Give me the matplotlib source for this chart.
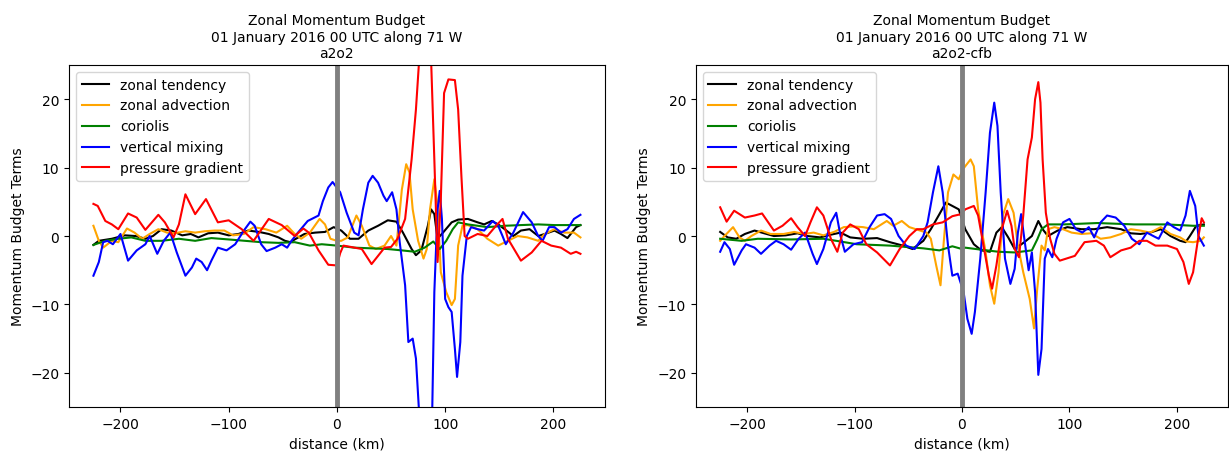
import numpy as np
import matplotlib
matplotlib.use('Agg')
import matplotlib.pyplot as plt

# ---- a2o2 (left panel) ----
tend_x_L = [-225,-220,-208,-196,-186,-177,-170,-162,-153,-143,-135,-128,-119,-110,-100,-91,-82,-72,-63,-54,
            -48,-43,-39,-30,-20,-11,-3,4,12,20,29,38,47,55,61,69,73,78,84,87,
            90,93,98,106,112,121,130,136,143,149,155,163,170,178,186,192,201,207,213,221,225]
tend_y_L = [-1.3,-0.7,-0.4,0.1,0.0,-0.4,0.0,1.0,0.8,0.1,0.3,-0.2,0.4,0.5,0.1,0.3,0.8,0.6,0.3,-0.2,
            -0.7,-0.9,-0.5,0.3,0.5,0.6,1.3,0.8,-0.4,-0.4,0.8,1.5,2.3,2.1,0.5,-1.9,-2.8,-2.1,1.5,3.9,
            3.2,-0.4,0.5,2.0,2.4,2.5,2.0,1.7,2.2,1.7,1.0,0.0,0.8,1.0,0.0,0.3,0.8,0.3,-0.3,1.3,1.6]

adv_x_L = [-225,-220,-216,-208,-202,-194,-187,-180,-173,-165,-157,-150,-140,-131,-122,-113,-104,-96,-86,-77,
           -66,-56,-46,-39,-33,-25,-16,-11,-6,0,4,10,18,23,30,36,44,50,55,60,
           64,67,70,75,80,83,86,90,93,96,101,106,109,112,116,121,130,139,149,158,
           167,176,186,192,201,210,219,225]
adv_y_L = [1.5,-0.7,-1.7,-0.7,-0.9,1.1,0.5,-0.4,0.3,1.0,0.5,0.4,0.7,0.5,0.7,0.8,0.8,0.1,0.3,1.3,
           1.0,0.5,1.5,0.3,-0.4,0.5,2.5,1.7,-0.4,-0.7,-0.7,-0.2,3.0,1.5,-1.4,-1.9,-1.4,0.0,-1.4,6.8,
           10.5,9.3,3.9,-0.7,-3.3,-1.9,3.9,8.3,4.4,-5.3,-8.2,-10.1,-9.2,-1.4,1.5,1.6,1.0,-0.4,-1.4,-0.7,
           0.0,-0.2,-0.7,0.3,1.0,0.5,0.5,-0.2]

cor_x_L = [-225,-214,-202,-190,-177,-162,-146,-131,-116,-100,-85,-70,-54,-39,-25,-14,0,16,32,47,
           60,72,81,89,95,101,107,112,121,130,139,155,170,186,201,225]
cor_y_L = [-1.3,-0.7,-0.4,-0.2,-0.7,-0.7,-0.4,-0.7,-0.3,-0.5,-0.7,-0.9,-1.0,-0.9,-1.4,-1.2,-1.4,-1.7,-1.8,-1.9,
           -2.1,-2.3,-1.7,-0.8,-1.9,-0.7,1.0,2.0,1.7,1.5,1.3,1.5,1.6,1.7,1.6,1.6]

mix_x_L = [-225,-220,-216,-212,-207,-200,-193,-185,-177,-173,-166,-160,-154,-148,-140,-134,-130,-125,-120,-116,
           -110,-102,-94,-86,-80,-76,-70,-65,-57,-51,-46,-42,-36,-27,-17,-13,-8,-4,3,9,
           16,20,24,29,33,38,43,46,51,55,58,63,66,70,73,76,82,88,90,93,
           95,97,100,103,106,109,111,114,116,120,124,130,136,144,149,153,156,163,172,180,
           186,190,196,201,207,213,219,225]
mix_y_L = [-5.8,-3.8,-0.9,-0.7,-1.2,0.3,-3.6,-2.1,-1.2,0.0,-2.6,-0.7,0.5,-2.4,-5.8,-4.6,-3.3,-3.8,-5.0,-3.6,
           -1.7,-2.1,-1.2,0.8,2.1,1.5,-1.2,-2.2,-1.7,-1.2,-1.7,-0.7,0.5,2.2,3.0,5.1,7.1,7.9,6.4,3.4,
           0.5,0.1,3.9,7.8,8.8,7.8,5.9,5.1,6.4,3.9,-0.9,-7.2,-15.5,-15.0,-17.9,-26,-40,-26,-8.2,3.9,
           6.6,2.5,-9.2,-10.4,-11.1,-16.5,-20.6,-15.5,-5.8,0.0,1.3,1.0,0.8,2.2,1.5,0.0,-1.2,0.5,3.5,2.0,
           0.0,-0.7,1.3,1.3,0.5,1.0,2.5,3.1]

pg_x_L = [-225,-221,-214,-208,-202,-193,-185,-177,-165,-159,-151,-146,-140,-131,-121,-110,-100,-88,-77,-63,
          -51,-39,-31,-26,-17,-8,0,3,6,13,23,32,38,44,50,56,63,69,73,76,
          81,87,90,93,96,99,103,109,112,115,118,121,130,139,147,153,158,170,180,189,
          198,207,216,221,225]
pg_y_L = [4.7,4.4,2.2,1.7,1.0,3.3,2.7,0.9,3.1,2.0,-0.2,1.7,6.1,3.2,5.4,2.0,2.3,1.0,-0.7,2.5,
          1.6,0.0,1.1,0.5,-2.1,-4.2,-4.3,-2.5,-1.4,-1.6,-1.9,-4.1,-2.9,-1.7,-1.6,-0.4,2.5,11.2,18.5,25.8,
          40,25.8,11.2,-3.8,5.4,20.9,22.9,22.8,18.5,8.8,0.0,-0.4,0.3,0.0,1.5,2.5,-0.4,-3.6,-2.4,-0.7,
          -1.4,-1.7,-2.6,-2.3,-2.6]

# ---- a2o2-cfb (right panel) ----
tend_x_R = [-225,-218,-210,-202,-193,-184,-175,-164,-153,-144,-132,-122,-113,-104,-92,-79,-67,-55,-46,-36,
            -29,-21,-15,-9,-3,3,11,18,26,32,37,43,49,58,65,71,75,80,89,98,
            111,123,135,148,157,166,175,185,194,203,208,212,218,225]
tend_y_R = [0.6,-0.2,-0.4,0.3,0.8,0.4,0.0,0.1,0.4,0.0,-0.2,0.2,0.5,-0.2,-0.4,-0.3,-0.9,-1.4,-1.9,-0.7,
            1.0,3.2,4.9,4.4,3.9,1.0,-1.2,-2.1,-2.3,0.5,1.3,-0.2,-1.9,-0.9,0.0,2.2,1.0,0.0,0.8,1.3,
            1.0,1.0,1.3,1.0,0.4,0.3,0.5,1.0,0.0,-0.7,-0.9,0.0,1.5,1.7]

adv_x_R = [-225,-221,-213,-207,-202,-196,-187,-178,-166,-156,-147,-138,-129,-119,-110,-101,-92,-82,-70,-64,
           -56,-49,-39,-33,-29,-24,-20,-17,-13,-8,-3,1,8,11,15,22,26,30,34,38,
           43,48,52,57,63,67,70,74,77,80,86,94,102,111,120,129,138,148,157,166,
           175,185,194,203,209,215,222,225]
adv_y_R = [-0.7,0.0,1.3,-0.2,-0.7,0.0,0.8,0.3,0.3,0.6,0.3,0.5,0.1,0.6,1.3,1.4,1.3,1.0,2.2,1.5,
           2.2,1.3,0.8,0.5,-0.4,-4.3,-7.2,-0.9,6.4,9.0,8.3,9.8,11.2,10.2,3.9,-2.4,-7.2,-9.9,-5.3,3.0,
           5.4,3.4,-1.4,-5.3,-9.2,-13.5,-7.7,-1.4,-2.1,1.0,1.3,1.0,0.5,0.3,0.4,-0.4,-0.2,0.3,1.0,0.8,
           0.5,1.3,0.3,-0.2,-0.8,-0.9,-0.7,-0.2]

cor_x_R = [-225,-205,-190,-159,-129,-113,-98,-67,-36,-21,-9,0,3,18,34,49,65,70,74,80,
           95,126,160,190,215,225]
cor_y_R = [-0.4,-0.7,-0.4,-0.5,-0.4,-0.8,-1.2,-1.4,-1.8,-2.1,-1.5,-1.9,-1.7,-2.0,-2.3,-2.4,-2.1,-0.5,1.0,1.7,
           1.7,1.9,1.7,1.7,1.5,1.5]

mix_x_R = [-225,-221,-216,-212,-205,-201,-193,-187,-179,-173,-166,-159,-152,-146,-139,-135,-129,-122,-117,-113,
           -109,-101,-93,-86,-79,-72,-66,-59,-52,-44,-36,-32,-27,-22,-18,-13,-9,-4,1.5,5,
           9,12,17,22,26,30,33,36,40,45,49,52,55,58,62,65,68,71,74,77,
           80,84,88,94,100,106,112,118,123,129,135,143,151,158,165,172,178,183,191,197,
           203,208,212,217,220,225]
mix_y_R = [-2.3,-0.9,-1.9,-4.2,-2.1,-1.2,-1.7,-2.6,-1.4,-0.7,-1.2,-2.0,-0.4,0.5,-2.6,-4.1,-1.9,2.0,3.4,0.0,
           -2.3,-1.2,-0.9,1.3,3.0,3.2,2.5,0.0,-1.4,-1.9,0.0,2.0,6.4,10.2,6.4,-1.4,-5.8,-5.5,-8.2,-12.1,
           -14.3,-11.1,-3.3,6.4,15.1,19.5,16.1,6.4,-3.3,-7.0,-4.8,0.5,3.2,-0.4,-5.0,-2.4,-8.2,-20.3,-16.5,-3.3,
           -1.9,-3.1,-0.4,2.0,2.5,1.0,0.5,1.3,-0.2,2.0,3.0,2.7,1.5,-0.4,-1.2,0.5,0.0,-0.4,2.0,1.3,
           0.8,3.0,6.6,4.4,0.0,-1.4]

pg_x_R = [-225,-219,-212,-202,-193,-186,-175,-167,-159,-153,-146,-141,-135,-129,-122,-116,-111,-104,-96,-89,
          -79,-67,-58,-49,-42,-36,-27,-18,-9,-1,3,11,15,20,25,28,32,37,42,46,
          49,53,57,61,65,68,71,73,75,78,82,86,91,97,105,114,125,132,138,148,
          157,165,172,180,191,200,206,211,215,220,223,225]
pg_y_R = [4.2,2.1,3.7,2.7,3.0,3.3,0.8,1.5,2.6,1.3,0.0,2.0,4.2,3.0,-0.4,-2.3,0.5,1.7,1.0,-1.2,
          -2.4,-4.3,-1.9,0.0,1.0,1.0,1.7,2.0,2.9,3.2,3.9,4.4,3.0,-1.4,-5.8,-7.7,-4.3,1.0,3.7,1.5,
          -1.9,-3.1,3.0,11.2,14.4,20.0,22.5,19.5,11.2,3.4,-0.4,-2.6,-3.6,-3.3,-2.9,-0.9,-0.7,-1.4,-3.1,-2.1,
          -1.7,-0.7,-0.7,-1.4,-1.4,-1.9,-3.8,-7.0,-5.3,0.0,2.6,2.0]

runs = ['a2o2', 'a2o2-cfb']
labels = ['zonal tendency', 'zonal advection', 'coriolis', 'vertical mixing', 'pressure gradient']
colors = ['k', 'orange', 'green', 'b', 'r']

fig = plt.figure(figsize=(12.29, 4.52), dpi=100)
ax1 = fig.add_axes([0.0562, 0.0973, 0.4359, 0.7566])
ax2 = fig.add_axes([0.5663, 0.0973, 0.4329, 0.7566])

panels = [
    (ax1, [(tend_x_L, tend_y_L), (adv_x_L, adv_y_L), (cor_x_L, cor_y_L), (mix_x_L, mix_y_L), (pg_x_L, pg_y_L)]),
    (ax2, [(tend_x_R, tend_y_R), (adv_x_R, adv_y_R), (cor_x_R, cor_y_R), (mix_x_R, mix_y_R), (pg_x_R, pg_y_R)]),
]

for i, (ax, series) in enumerate(panels):
    for (xs, ys), lab, c in zip(series, labels, colors):
        ax.plot(xs, ys, color=c, label=lab, linewidth=1.5)
    ax.axvline(0, color='gray', linewidth=3.5)
    ax.set_ylim(-25, 25)
    ax.set_xlim(-247.5, 247.5)
    ax.set_xlabel('distance (km)')
    ax.set_ylabel('Momentum Budget Terms')
    ax.set_title('Zonal Momentum Budget\n01 January 2016 00 UTC along 71 W\n' + runs[i], fontsize=10)
    ax.legend(loc='upper left')

fig.savefig('out.png', dpi=100)
